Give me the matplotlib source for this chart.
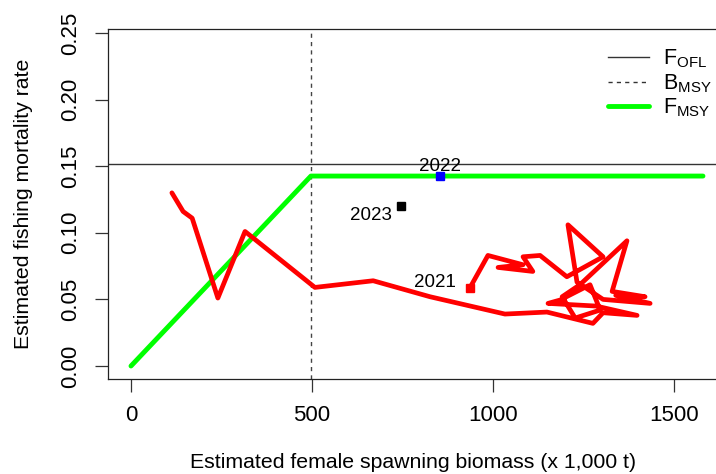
import numpy as np
import matplotlib.pyplot as plt
from matplotlib.lines import Line2D

plt.rcParams['font.family'] = ['Liberation Sans', 'DejaVu Sans']
plt.rcParams['mathtext.fontset'] = 'custom'
plt.rcParams['mathtext.rm'] = 'Liberation Sans'

# reference points
B_MSY = 497.0
F_MSY = 0.1426
F_OFL = 0.1517
B_END = 1580.0

# stock trajectory (biomass in 1,000 t, fishing mortality), oldest first, ends in 2021
biomass = [113, 144, 169, 240, 315, 508, 669, 826, 1033, 1149,
           1276, 1304, 1398, 1285, 1152, 1185, 1268, 1296, 1227, 1191,
           1240, 1370, 1329, 1420, 1339, 1434, 1304, 1232, 1207, 1304,
           1204, 1130, 1083, 1110, 1014, 1083, 986, 936]
fmort = [0.130, 0.116, 0.111, 0.051, 0.101, 0.059, 0.064, 0.052, 0.039, 0.0405,
         0.032, 0.040, 0.038, 0.045, 0.047, 0.0495, 0.061, 0.042, 0.036, 0.052,
         0.061, 0.094, 0.056, 0.052, 0.053, 0.047, 0.050, 0.063, 0.106, 0.082,
         0.067, 0.083, 0.082, 0.071, 0.074, 0.076, 0.083, 0.0586]

# projected years
proj_years = ['2022', '2023']
proj_biomass = [854, 746]
proj_f = [0.1426, 0.120]
proj_cols = ['blue', 'black']

fig = plt.figure(figsize=(7.16, 4.74), dpi=100)
ax = fig.add_axes([108/716, 1-379/474, (726-108)/716, (379-29)/474])

# harvest control rule
ax.plot([0, B_MSY, B_END], [0, F_MSY, F_MSY], color='#00ff00', lw=3.5,
        solid_capstyle='round', zorder=2)
ax.axhline(F_OFL, color='#333333', lw=1.0, zorder=1)
ax.axvline(B_MSY, color='#444444', lw=1.0, ls=(0, (3, 3)), zorder=1)

ax.plot(biomass, fmort, color='red', lw=3.4, solid_joinstyle='round',
        solid_capstyle='round', zorder=3)
ax.plot(biomass[-1], fmort[-1], 's', color='red', ms=6, zorder=4)
ax.annotate('2021', (biomass[-1], fmort[-1]), xytext=(-25, 4),
            textcoords='offset points', ha='center', va='center', fontsize=13.5)

for yr, b, f, c in zip(proj_years, proj_biomass, proj_f, proj_cols):
    ax.plot(b, f, 's', color=c, ms=6, zorder=4)
ax.annotate(proj_years[0], (proj_biomass[0], proj_f[0]), xytext=(0, 7),
            textcoords='offset points', ha='center', va='center', fontsize=13.5)
ax.annotate(proj_years[1], (proj_biomass[1], proj_f[1]), xytext=(-22, -7),
            textcoords='offset points', ha='center', va='center', fontsize=13.5)

ax.set_xlim(-63.5, 1643.6)
ax.set_ylim(-0.00976, 0.2530)
ax.set_xticks([0, 500, 1000, 1500])
ax.set_yticks([0, 0.05, 0.10, 0.15, 0.20, 0.25])
ax.set_yticklabels(['0.00', '0.05', '0.10', '0.15', '0.20', '0.25'])
ax.tick_params(axis='both', direction='out', length=9.4, width=0.9,
               labelsize=16, color='#333333')
ax.tick_params(axis='x', pad=9)
ax.tick_params(axis='y', pad=10)
for lab in ax.get_yticklabels():
    lab.set_rotation(90)
    lab.set_va('center')
for sp in ax.spines.values():
    sp.set_linewidth(0.9)
    sp.set_color('#222222')

ax.set_xlabel('Estimated female spawning biomass (x 1,000 t)', fontsize=15.3)
ax.set_ylabel('Estimated fishing mortality rate', fontsize=15.3)
ax.xaxis.set_label_coords(413.5/716, 1-453/474, transform=fig.transFigure)
ax.yaxis.set_label_coords(33/716, 1-204/474, transform=fig.transFigure)

handles = [Line2D([], [], color='#333333', lw=1.0),
           Line2D([], [], color='#333333', lw=1.0, ls=(0, (3, 3))),
           Line2D([], [], color='#00ff00', lw=3.5, solid_capstyle='round')]
labels = [r'$\mathregular{F_{OFL}}$', r'$\mathregular{B_{MSY}}$', r'$\mathregular{F_{MSY}}$']
fig.legend(handles, labels, loc='upper left', bbox_to_anchor=(597/716, 1-37/474),
           frameon=False, fontsize=15.5, handlelength=1.9, handletextpad=0.65,
           labelspacing=0.08, borderpad=0)

fig.savefig('out.png', dpi=100)
